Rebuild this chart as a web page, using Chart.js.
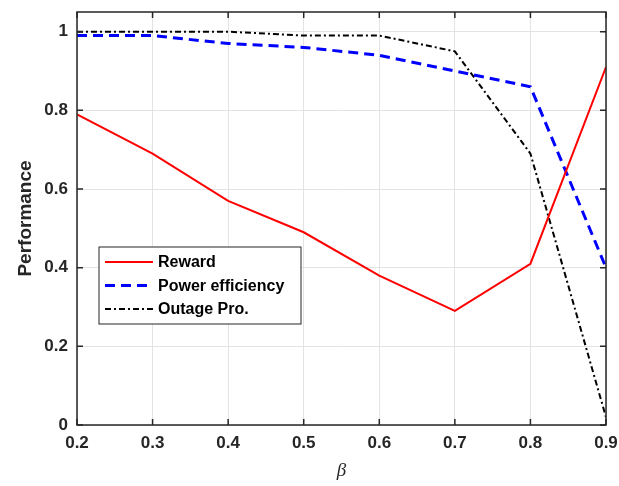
<!DOCTYPE html>
<html>
<head>
<script src="https://cdn.jsdelivr.net/npm/chart.js@4.4.1/dist/chart.umd.min.js"></script>
<style>
  body { margin: 0; background: #fff; }
  #wrap { width: 619px; height: 486px; }
</style>
</head>
<body>
<div id="wrap"><canvas id="perf"></canvas></div>
<script>
  const beta = [0.2, 0.3, 0.4, 0.5, 0.6, 0.7, 0.8, 0.9];
  const reward = [0.79, 0.69, 0.57, 0.49, 0.38, 0.29, 0.41, 0.91];
  const powerEff = [0.99, 0.99, 0.97, 0.96, 0.94, 0.90, 0.86, 0.40];
  const outage = [1.0, 1.0, 1.0, 0.99, 0.99, 0.95, 0.69, 0.02];
  const yTicks = [0, 0.2, 0.4, 0.6, 0.8, 1];

  const pts = arr => arr.map((v, i) => ({ x: beta[i], y: v }));

  // MATLAB-like box with inward ticks and a legend inside the axes
  const boxPlugin = {
    id: 'box',
    afterDraw(chart) {
      const ctx = chart.ctx, a = chart.chartArea;
      const xs = chart.scales.x, ys = chart.scales.y;
      ctx.save();
      ctx.strokeStyle = '#262626';
      ctx.lineWidth = 1.5;
      ctx.strokeRect(a.left, a.top, a.right - a.left, a.bottom - a.top);
      ctx.beginPath();
      beta.forEach(v => {
        const px = xs.getPixelForValue(v);
        ctx.moveTo(px, a.bottom); ctx.lineTo(px, a.bottom - 6);
        ctx.moveTo(px, a.top); ctx.lineTo(px, a.top + 6);
      });
      yTicks.forEach(v => {
        const py = ys.getPixelForValue(v);
        ctx.moveTo(a.left, py); ctx.lineTo(a.left + 6, py);
        ctx.moveTo(a.right, py); ctx.lineTo(a.right - 6, py);
      });
      ctx.stroke();

      // legend
      const lx = 99, ly = 247, lw = 202, lh = 77;
      ctx.fillStyle = '#fff';
      ctx.fillRect(lx, ly, lw, lh);
      ctx.strokeStyle = '#262626';
      ctx.lineWidth = 1;
      ctx.strokeRect(lx, ly, lw, lh);
      ctx.font = 'bold 16px "Liberation Sans", Arial, sans-serif';
      ctx.textBaseline = 'middle';
      chart.data.datasets.forEach((ds, i) => {
        const ry = ly + 15 + i * 23.5;
        ctx.strokeStyle = ds.borderColor;
        ctx.lineWidth = ds.borderWidth;
        ctx.setLineDash(ds.borderDash || []);
        ctx.beginPath();
        ctx.moveTo(lx + 6, ry); ctx.lineTo(lx + 54, ry);
        ctx.stroke();
        ctx.setLineDash([]);
        ctx.fillStyle = '#000';
        ctx.fillText(ds.label, lx + 59, ry + 1);
      });
      ctx.restore();
    }
  };

  new Chart(document.getElementById('perf'), {
    type: 'line',
    data: {
      datasets: [{
        label: 'Reward',
        data: pts(reward),
        borderColor: '#ff0000',
        borderWidth: 2,
        pointRadius: 0,
        fill: false
      }, {
        label: 'Power efficiency',
        data: pts(powerEff),
        borderColor: '#0000ff',
        borderWidth: 3,
        borderDash: [10, 6],
        pointRadius: 0,
        fill: false
      }, {
        label: 'Outage Pro.',
        data: pts(outage),
        borderColor: '#000000',
        borderWidth: 2,
        borderDash: [6, 3, 2, 3],
        pointRadius: 0,
        fill: false
      }]
    },
    options: {
      responsive: true,
      maintainAspectRatio: false,
      animation: false,
      layout: { padding: { top: 12, right: 13, left: 0, bottom: 0 } },
      plugins: { legend: { display: false }, tooltip: { enabled: false } },
      scales: {
        x: {
          type: 'linear',
          min: 0.2,
          max: 0.9,
          afterBuildTicks: s => { s.ticks = beta.map(v => ({ value: v })); },
          afterFit: s => { s.height = 61; s.paddingLeft = 0; s.paddingRight = 0; },
          grid: { color: '#e3e3e3', lineWidth: 1, drawTicks: false },
          border: { display: false },
          ticks: {
            padding: 8,
            color: '#262626',
            font: { family: '"Liberation Sans", Arial, sans-serif', size: 17, weight: 'bold' },
            callback: v => v.toFixed(1)
          },
          title: {
            display: true,
            text: 'β',
            color: '#262626',
            padding: { top: 3 },
            font: { family: '"Liberation Serif", "DejaVu Serif", serif', size: 19, style: 'italic' }
          }
        },
        y: {
          min: 0,
          max: 1.05,
          afterBuildTicks: s => { s.ticks = yTicks.map(v => ({ value: v })); },
          afterFit: s => { s.width = 77; s.paddingTop = 0; s.paddingBottom = 0; },
          grid: { color: '#e3e3e3', lineWidth: 1, drawTicks: false },
          border: { display: false },
          ticks: {
            padding: 9,
            color: '#262626',
            font: { family: '"Liberation Sans", Arial, sans-serif', size: 17, weight: 'bold' },
            callback: v => String(v)
          },
          title: {
            display: true,
            text: 'Performance',
            color: '#262626',
            padding: { top: 14, bottom: 0 },
            font: { family: '"Liberation Sans", Arial, sans-serif', size: 19, weight: 'bold' }
          }
        }
      }
    },
    plugins: [boxPlugin]
  });
</script>
</body>
</html>
